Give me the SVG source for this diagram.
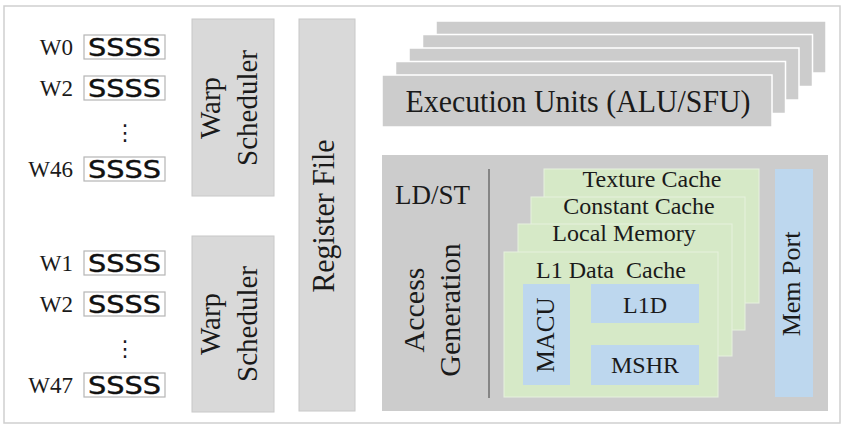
<svg xmlns="http://www.w3.org/2000/svg" width="846" height="426" viewBox="0 0 846 426">
<style>
text{font-family:"Liberation Serif","Times New Roman",serif;fill:#1a1a1a}
.lbl{font-size:23px;text-anchor:end}
.thr{font-family:"DejaVu Sans","Liberation Sans",sans-serif;font-size:25px;fill:#111111;stroke:#111111;stroke-width:0.4}
.tbox{fill:#ffffff;stroke:#b5b5b5;stroke-width:1.2}
.lgray{fill:#d9d9d9;stroke:#c8c8c8;stroke-width:1}
.gray{fill:#cccccc;stroke:#ffffff;stroke-width:1.5}
.green{fill:#d6e9c7;stroke:#e6f1dd;stroke-width:1}
.blue{fill:#bdd7ee}
.mid{font-size:24px;text-anchor:middle}
.dots{font-family:"DejaVu Sans",sans-serif;font-size:22px;text-anchor:middle}
</style>
<rect x="4" y="6" width="836" height="417" fill="#ffffff" stroke="#cfcfcf" stroke-width="1.5"/>

<g id="warps-upper">
  <text class="lbl" x="73" y="55">W0</text>
  <rect class="tbox" x="84" y="35" width="81" height="24"/>
  <text class="thr" x="88" y="56" textLength="73" lengthAdjust="spacingAndGlyphs">SSSS</text>
  <text class="lbl" x="73" y="96">W2</text>
  <rect class="tbox" x="84" y="76" width="81" height="24"/>
  <text class="thr" x="88" y="97" textLength="73" lengthAdjust="spacingAndGlyphs">SSSS</text>
  <text class="dots" x="125" y="140">⋮</text>
  <text class="lbl" x="73" y="177">W46</text>
  <rect class="tbox" x="84" y="157" width="81" height="24"/>
  <text class="thr" x="88" y="178" textLength="73" lengthAdjust="spacingAndGlyphs">SSSS</text>
</g>

<g id="warps-lower">
  <text class="lbl" x="73" y="271">W1</text>
  <rect class="tbox" x="84" y="251" width="81" height="24"/>
  <text class="thr" x="88" y="272" textLength="73" lengthAdjust="spacingAndGlyphs">SSSS</text>
  <text class="lbl" x="73" y="312">W2</text>
  <rect class="tbox" x="84" y="292" width="81" height="24"/>
  <text class="thr" x="88" y="313" textLength="73" lengthAdjust="spacingAndGlyphs">SSSS</text>
  <text class="dots" x="125" y="356">⋮</text>
  <text class="lbl" x="73" y="393">W47</text>
  <rect class="tbox" x="84" y="373" width="81" height="24"/>
  <text class="thr" x="88" y="394" textLength="73" lengthAdjust="spacingAndGlyphs">SSSS</text>
</g>

<g id="warp-scheduler-1">
  <rect class="lgray" x="192" y="19" width="82" height="177"/>
  <g transform="translate(233,108) rotate(-90)">
    <text x="0" y="-13" font-size="29" text-anchor="middle">Warp</text>
    <text x="0" y="24" font-size="29" text-anchor="middle">Scheduler</text>
  </g>
</g>

<g id="warp-scheduler-2">
  <rect class="lgray" x="192" y="236" width="82" height="176"/>
  <g transform="translate(233,324) rotate(-90)">
    <text x="0" y="-13" font-size="29" text-anchor="middle">Warp</text>
    <text x="0" y="24" font-size="29" text-anchor="middle">Scheduler</text>
  </g>
</g>

<g id="register-file">
  <rect class="lgray" x="299" y="19" width="56" height="392"/>
  <text transform="translate(334,216) rotate(-90)" font-size="31" text-anchor="middle" textLength="153" lengthAdjust="spacingAndGlyphs">Register File</text>
</g>

<g id="execution-units">
  <rect class="gray" x="436" y="21" width="390" height="52"/>
  <rect class="gray" x="422.5" y="34.5" width="390" height="52"/>
  <rect class="gray" x="409" y="48" width="390" height="52"/>
  <rect class="gray" x="395.5" y="61.5" width="390" height="52"/>
  <rect class="gray" x="382" y="75" width="390" height="52"/>
  <text x="578" y="112" font-size="31" text-anchor="middle" textLength="345" lengthAdjust="spacingAndGlyphs">Execution Units (ALU/SFU)</text>
</g>

<g id="ldst">
  <rect fill="#cccccc" x="382" y="155" width="446" height="256"/>
  <text x="395" y="204" font-size="27">LD/ST</text>
  <g transform="translate(0,310) rotate(-90)">
    <text x="0" y="424" font-size="30" text-anchor="middle">Access</text>
    <text x="0" y="460" font-size="30" text-anchor="middle">Generation</text>
  </g>
  <line x1="489" y1="169" x2="489" y2="398" stroke="#6e6e6e" stroke-width="1.5"/>
</g>

<g id="texture-cache">
  <rect class="green" x="544" y="169" width="215" height="134"/>
  <text class="mid" x="652" y="187">Texture Cache</text>
</g>
<g id="constant-cache">
  <rect class="green" x="531" y="197" width="214" height="133"/>
  <text class="mid" x="639" y="214">Constant Cache</text>
</g>
<g id="local-memory">
  <rect class="green" x="518" y="224" width="214" height="132"/>
  <text class="mid" x="624" y="241">Local Memory</text>
</g>
<g id="l1-data-cache">
  <rect class="green" x="504" y="252" width="214" height="145"/>
  <text class="mid" x="611" y="278" xml:space="preserve">L1 Data  Cache</text>
</g>
<g id="macu">
  <rect class="blue" x="523" y="284" width="47" height="101"/>
  <text transform="translate(554,335) rotate(-90)" font-size="25" text-anchor="middle">MACU</text>
</g>
<g id="l1d">
  <rect class="blue" x="591" y="284" width="108" height="39"/>
  <text class="mid" x="645" y="313" font-size="25">L1D</text>
</g>
<g id="mshr">
  <rect class="blue" x="591" y="345" width="108" height="40"/>
  <text class="mid" x="645" y="373" font-size="26">MSHR</text>
</g>
<g id="mem-port">
  <rect class="blue" x="775" y="169" width="38" height="228"/>
  <text transform="translate(800,284) rotate(-90)" font-size="26" text-anchor="middle">Mem Port</text>
</g>
<g id="connectors"></g>
</svg>
